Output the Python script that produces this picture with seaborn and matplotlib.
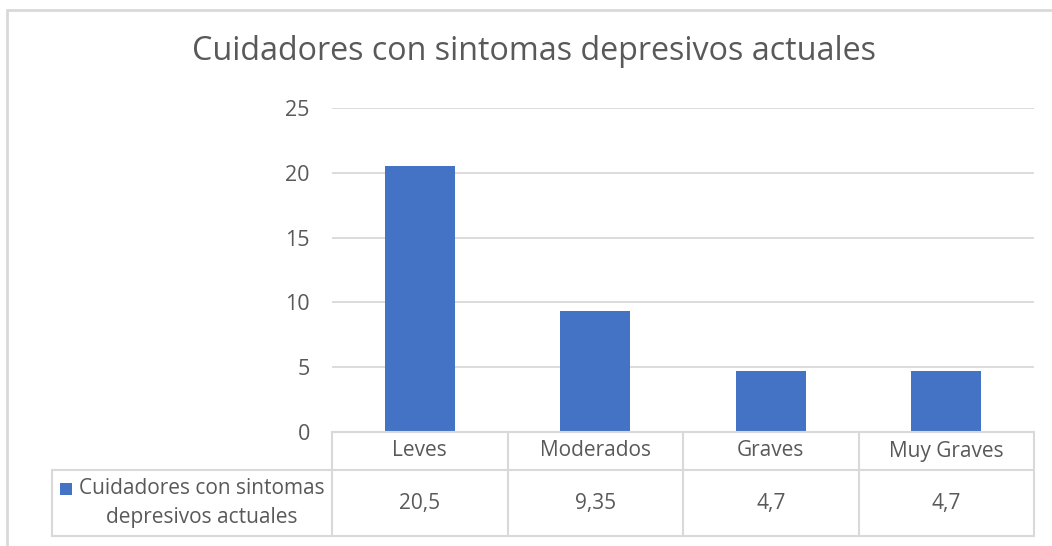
import matplotlib
matplotlib.use("Agg")
import matplotlib.pyplot as plt
import seaborn as sns
import pandas as pd
from matplotlib.lines import Line2D
from matplotlib.patches import Rectangle

# ---- data ----
categories = ["Leves", "Moderados", "Graves", "Muy Graves"]
values = [20.5, 9.35, 4.7, 4.7]
value_labels = ["20,5", "9,35", "4,7", "4,7"]
series_name = "Cuidadores con sintomas depresivos actuales"
series_label_lines = ["Cuidadores con sintomas", "depresivos actuales"]
title = "Cuidadores con sintomas depresivos actuales"
yticks = [0, 5, 10, 15, 20, 25]

sns.set_theme(style="white")
plt.rcParams["font.family"] = ["Open Sans", "DejaVu Sans"]

W, H = 1052, 546
fig = plt.figure(figsize=(W / 100, H / 100), dpi=100)
fig.patch.set_facecolor("white")

def fx(px):
    return px / W

def fy(py):
    return 1 - py / H

TXT = "#595959"
GRID = "#d9d9d9"
BLUE = "#4472C4"

# plot area
x0, x1 = 332, 1034
y_top, y_bot = 108, 432
ax = fig.add_axes([fx(x0), fy(y_bot), fx(x1) - fx(x0), fy(y_top) - fy(y_bot)])
df = pd.DataFrame({"cat": categories, "val": values})
sns.barplot(data=df, x="cat", y="val", color=BLUE, width=0.4, saturation=1,
            ax=ax, edgecolor="none")
ax.set_ylim(0, 25)
ax.set_xlim(-0.5, len(categories) - 0.5)
ax.set_yticks(yticks)
ax.set_yticklabels([str(t) for t in yticks])
ax.yaxis.grid(True, color=GRID, linewidth=1.3)
ax.set_axisbelow(True)
for s in ax.spines.values():
    s.set_visible(False)
ax.tick_params(axis="y", length=0, pad=16, labelsize=15.5, labelcolor=TXT)
ax.tick_params(axis="x", length=0, labelbottom=False)
ax.set_xlabel("")
ax.set_ylabel("")

# title
fig.text(fx(534), fy(51), title, ha="center", va="center", fontsize=23.2, color=TXT)

# outer chart border
fig.add_artist(Line2D([fx(7), fx(1052)], [fy(10), fy(10)], transform=fig.transFigure,
                      color=GRID, linewidth=2))
fig.add_artist(Line2D([fx(7), fx(7)], [fy(10), fy(546)], transform=fig.transFigure,
                      color=GRID, linewidth=2))

# data table
t_left = 52
row1_bot = 470
t_bot = 536
cw = (x1 - x0) / len(categories)
lw = 1.5
def hline(xa, xb, y):
    fig.add_artist(Line2D([fx(xa), fx(xb)], [fy(y), fy(y)], transform=fig.transFigure,
                          color=GRID, linewidth=lw))
def vline(x, ya, yb):
    fig.add_artist(Line2D([fx(x), fx(x)], [fy(ya), fy(yb)], transform=fig.transFigure,
                          color=GRID, linewidth=lw))

hline(x0, x1, y_bot)
hline(t_left, x1, row1_bot)
hline(t_left, x1, t_bot)
vline(t_left, row1_bot, t_bot)
for i in range(len(categories) + 1):
    vline(x0 + i * cw, y_bot, t_bot)

for i, (c, v) in enumerate(zip(categories, value_labels)):
    cx = x0 + (i + 0.5) * cw
    fig.text(fx(cx), fy(451), c, ha="center", va="center", fontsize=15, color=TXT)
    fig.text(fx(cx), fy(503), v, ha="center", va="center", fontsize=15, color=TXT)

# legend key
fig.add_artist(Rectangle((fx(60), fy(495)), fx(12), fy(483) - fy(495),
                         transform=fig.transFigure, facecolor=BLUE, edgecolor="none"))
fig.text(fx(202), fy(488), series_label_lines[0], ha="center", va="center", fontsize=15, color=TXT)
fig.text(fx(202), fy(518), series_label_lines[1], ha="center", va="center", fontsize=15, color=TXT)

fig.savefig("out.png", dpi=100, facecolor="white")
